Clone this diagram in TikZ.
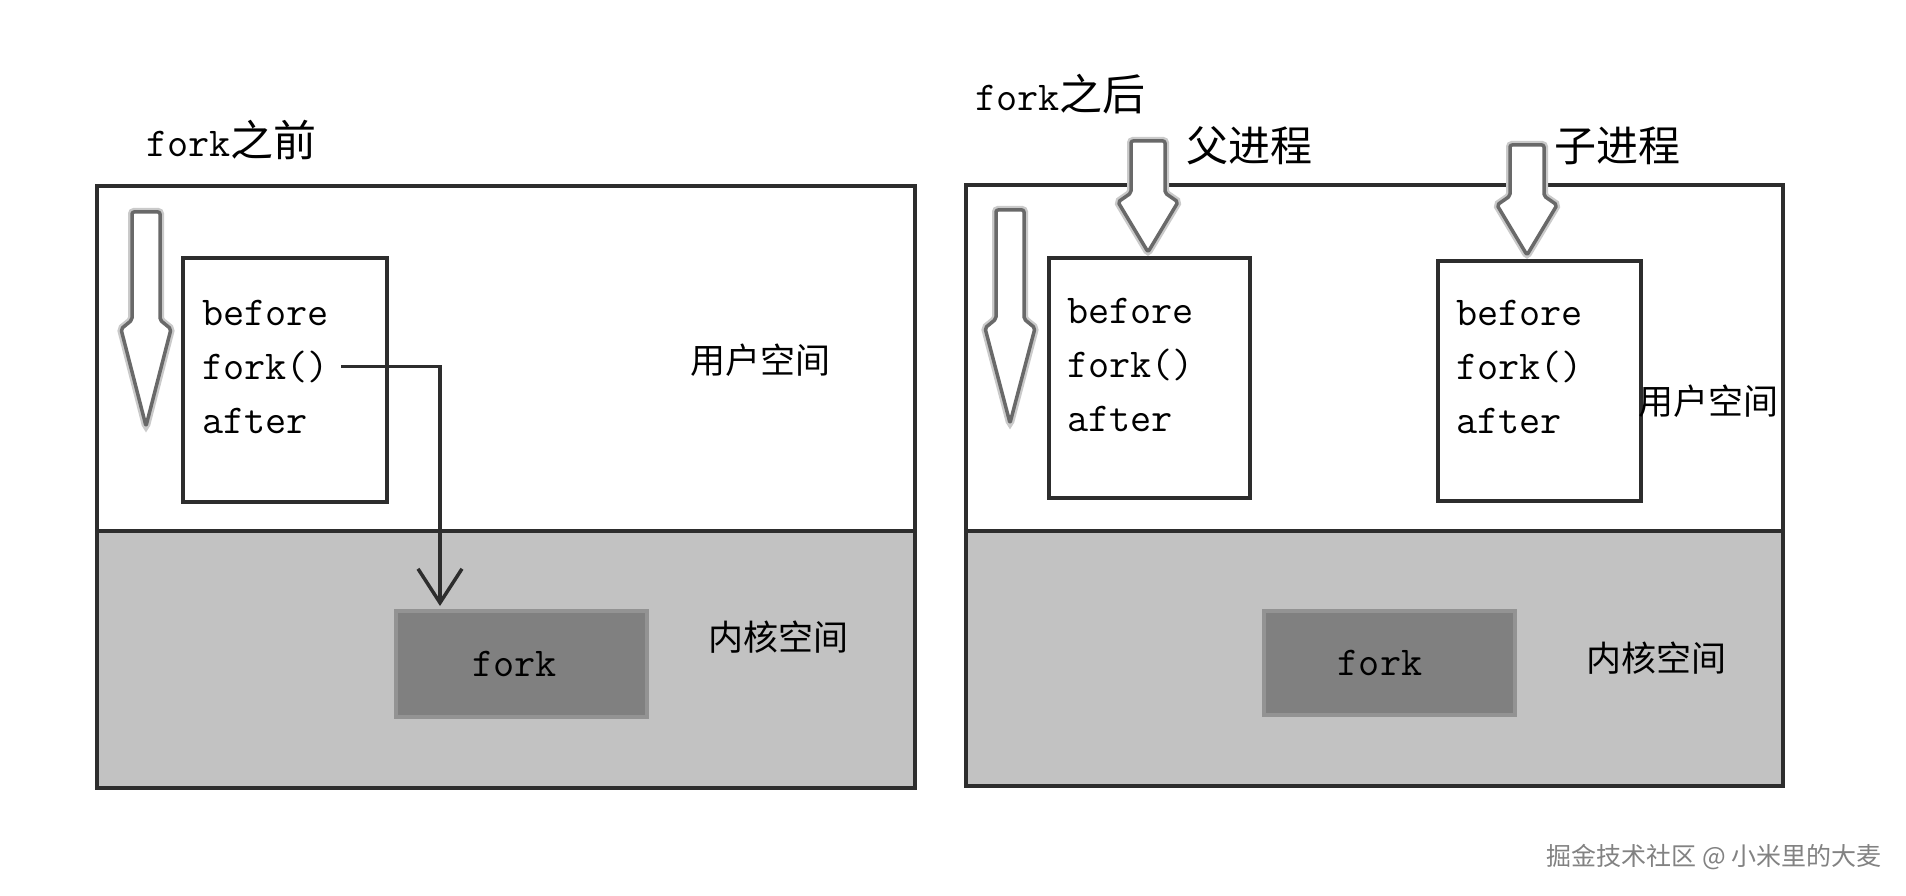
\documentclass[tikz,border=0pt]{standalone}
\usepackage{fontspec}
\newfontfamily\cjk{Noto Sans CJK SC}
\usetikzlibrary{arrows.meta}
\definecolor{kgray}{RGB}{194,194,194}
\definecolor{kboxgray}{RGB}{128,128,128}
\definecolor{frame}{RGB}{45,45,45}
\definecolor{arrowgray}{RGB}{105,105,105}
\definecolor{wmgray}{RGB}{130,130,130}
\newcommand\codefontsel{\ttfamily\addfontfeatures{FakeBold=2.5}\fontsize{41}{49}\selectfont}
\newcommand\myblockarrow[6]{% cx, top, headstart, tip, shaft half width, head half width
  \draw[blockarrow] (#1-#5,#2) -- (#1+#5,#2) -- (#1+#5,#3) -- (#1+#6,#3+9) -- (#1,#4) -- (#1-#6,#3+9) -- (#1-#5,#3) -- cycle;}
\begin{document}
\begin{tikzpicture}[x=1pt,y=-1pt,
  panelframe/.style={draw=frame, line width=4pt},
  kspace/.style={fill=kgray},
  codebox/.style={draw=frame, line width=3.5pt, fill=white, inner sep=0pt},
  kbox/.style={fill=kboxgray, draw=kboxgray!85!white, line width=4pt, inner sep=0pt,
    font=\codefontsel, text=black},
  code/.style={font=\codefontsel, anchor=base west, inner sep=0pt, text=black},
  title/.style={anchor=base west, inner sep=0pt, text=black},
  spacelabel/.style={font=\cjk\fontsize{35}{40}\selectfont, inner sep=0pt, text=black},
  proclabel/.style={font=\cjk\fontsize{42}{48}\selectfont, inner sep=0pt, text=black},
  blockarrow/.style={draw=arrowgray, line width=3.5pt, fill=white, line join=round,
    rounded corners=2pt, preaction={draw=arrowgray!35, line width=8pt}},
  conn/.style={draw=frame, line width=3.5pt, -{Straight Barb[length=34pt,width=44pt]}}
]
\useasboundingbox (0,0) rectangle (1906,896);
\fill[white] (0,0) rectangle (1906,896);

% ---------------- left panel: before fork ----------------
\fill[kspace] (97,531) rectangle (915,788);
\draw[panelframe] (97,186) rectangle (915,788);
\draw[panelframe] (97,531) -- (915,531);
\node[title] (ltitle) at (146,157) {\codefontsel fork\cjk\fontsize{43}{48}\selectfont 之前};

\myblockarrow{146}{212}{320}{426}{14}{25}

\node[codebox, minimum width=204pt, minimum height=244pt] (lbox) at (285,380) {};
\node[code] (lb1) at (202,325) {before};
\node[code] (lb2) at (202,379) {fork()};
\node[code] (lb3) at (202,433) {after};

\node[spacelabel] (luser) at (760,360) {用户空间};
\node[spacelabel] (lkern) at (778,637) {内核空间};

\node[kbox, minimum width=251pt, minimum height=106pt] (lkfork) at (521.5,664) {fork\hspace*{14pt}};

\coordinate (lconnend) at (440,606);
\draw[conn] ([xshift=12pt]lb2.east) -| (lconnend);

% ---------------- right panel: after fork ----------------
\fill[kspace] (966,531) rectangle (1783,786);
\draw[panelframe] (966,185) rectangle (1783,786);
\draw[panelframe] (966,531) -- (1783,531);
\node[title] (rtitle) at (975,111) {\codefontsel fork\cjk\fontsize{43}{48}\selectfont 之后};

\node[proclabel] (parentlbl) at (1249,146) {父进程};
\node[proclabel] (childlbl) at (1617,146) {子进程};

\myblockarrow{1010}{210}{319}{423}{14}{25}
\myblockarrow{1148}{141}{193}{252}{17}{30}
\myblockarrow{1527}{145}{196}{255}{17}{30}

\node[codebox, minimum width=201pt, minimum height=240pt] (pbox) at (1149.5,378) {};
\node[code] (pb1) at (1067,323) {before};
\node[code] (pb2) at (1067,377) {fork()};
\node[code] (pb3) at (1067,431) {after};

\node[codebox, minimum width=203pt, minimum height=240pt] (cbox) at (1539.5,381) {};
\node[code] (cb1) at (1456,325) {before};
\node[code] (cb2) at (1456,379) {fork()};
\node[code] (cb3) at (1456,433) {after};

\node[spacelabel] (ruser) at (1708,401) {用户空间};
\node[spacelabel] (rkern) at (1656,658) {内核空间};

\node[kbox, minimum width=251pt, minimum height=104pt] (rkfork) at (1389.5,663) {fork\hspace*{19pt}};

% watermark
\node[anchor=east, inner sep=0pt, font=\cjk\fontsize{25}{29}\selectfont, text=wmgray] (wm) at (1882,857) {掘金技术社区 @ 小米里的大麦};
\end{tikzpicture}
\end{document}
